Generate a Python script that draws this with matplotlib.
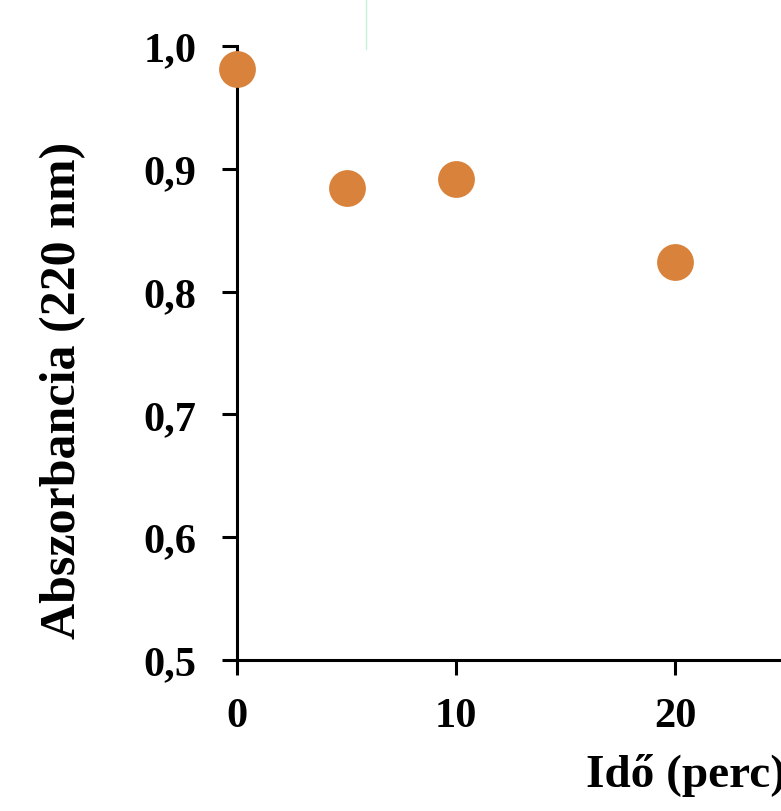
import matplotlib.pyplot as plt
from matplotlib.lines import Line2D

# --- data ---
ido = [0, 5, 10, 20]
abszorbancia = [0.981, 0.884, 0.892, 0.824]
x_ticks = [0, 10, 20, 30, 40]
y_ticks = [0.5, 0.6, 0.7, 0.8, 0.9, 1.0]
y_ticklabels = ['0,5', '0,6', '0,7', '0,8', '0,9', '1,0']

plt.rcParams['font.family'] = ['Liberation Serif', 'DejaVu Serif']
plt.rcParams['font.weight'] = 'bold'

fig = plt.figure(figsize=(7.81, 8.12), dpi=100)
ax = fig.add_axes([237 / 781, 151 / 812, 876 / 781, 614 / 812])

ax.plot(ido, abszorbancia, 'o', color='#D9823B', markersize=26.5,
        markeredgewidth=0, clip_on=False, zorder=3)

ax.set_xlim(0, 40)
ax.set_ylim(0.5, 1.0)
ax.set_xticks(x_ticks)
ax.set_yticks(y_ticks)
ax.set_yticklabels(y_ticklabels)

for side in ['top', 'right']:
    ax.spines[side].set_visible(False)
for side in ['left', 'bottom']:
    ax.spines[side].set_linewidth(2.2)

ax.tick_params(axis='both', direction='out', length=10.5, width=2.2,
               labelsize=30.5)
ax.tick_params(axis='x', pad=16)
ax.tick_params(axis='y', pad=18.5)
for lbl in ax.get_xticklabels() + ax.get_yticklabels():
    lbl.set_fontweight('bold')

ax.set_xlabel('Idő (perc)', fontsize=34, fontweight='bold')
ax.set_ylabel('Abszorbancia (220 nm)', fontsize=36, fontweight='bold')
ax.xaxis.set_label_coords(0.513, -0.152)
ax.yaxis.set_label_coords(-0.172, 0.441)

# faint vertical line at the top (cropping artifact in the source)
fig.add_artist(Line2D([366 / 781, 366 / 781], [1.0, (812 - 50) / 812],
                      transform=fig.transFigure, color='#c9f0dc', linewidth=1))

fig.savefig('out.png', dpi=100)
